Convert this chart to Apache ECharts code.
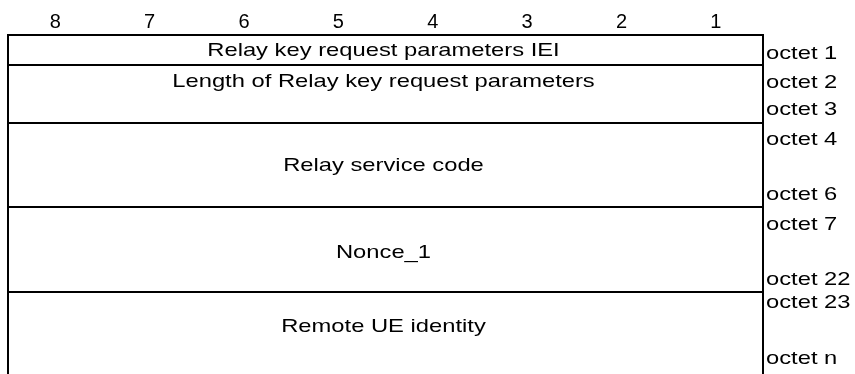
<!DOCTYPE html>
<html>
<head>
<meta charset="utf-8">
<script src="https://cdn.jsdelivr.net/npm/echarts@6/dist/echarts.min.js"></script>
<style>html,body{margin:0;padding:0;background:#fff}#c{width:855px;height:374px}</style>
</head>
<body>
<div id="c"></div>
<script>
// Bit column headings (left = most significant bit)
var bitLabels = ['8', '7', '6', '5', '4', '3', '2', '1'];
// Information element fields (rows of the figure)
var fieldNames = ['Relay key request parameters IEI', 'Length of Relay key request parameters', 'Relay service code', 'Nonce_1', 'Remote UE identity'];
// Row extents, in octet-line units from the top of the table
var rowStart = [0, 1.05, 3.06, 6.02, 9];
var rowEnd = [1.05, 3.06, 6.02, 9, 12];
// Vertical position of each field name (octet-line units)
var fieldLabelY = [0.55, 1.62, 4.57, 7.62, 10.2];
// Octet labels on the right side and their vertical positions
var octetLabels = ['octet 1', 'octet 2', 'octet 3', 'octet 4', 'octet 6', 'octet 7', 'octet 22', 'octet 23', 'octet n'];
var octetY = [0.65, 1.66, 2.6, 3.67, 5.6, 6.62, 8.57, 9.35, 11.33];

var FONT = 'Liberation Sans, Arial, sans-serif';
var FS = 19;
var SX = 1.25;

var chart = echarts.init(document.getElementById('c'), null, {renderer: 'canvas'});

var rowData = rowStart.map(function (s, i) { return [s, rowEnd[i]]; });
var fieldData = fieldNames.map(function (n, i) { return [4, fieldLabelY[i], n]; });
var octetData = octetLabels.map(function (n, i) { return [8, octetY[i], n]; });

function textEl(x, y, str, align) {
  return {
    type: 'text',
    x: x, y: y,
    scaleX: SX,
    style: {
      text: str,
      fill: '#000',
      font: FS + 'px ' + FONT,
      align: align,
      verticalAlign: 'middle'
    }
  };
}

chart.setOption({
  animation: false,
  backgroundColor: '#fff',
  grid: {left: 8, right: 92, top: 35, bottom: 0, containLabel: false},
  xAxis: [
    {
      type: 'category', data: bitLabels, position: 'top', boundaryGap: true,
      axisLine: {show: false}, axisTick: {show: false}, splitLine: {show: false},
      axisLabel: {color: '#000', fontSize: 20, fontFamily: FONT, margin: 3}
    },
    {type: 'value', min: 0, max: 8, show: false}
  ],
  yAxis: {type: 'value', min: 0, max: 11.85, inverse: true, show: false},
  series: [
    {
      type: 'custom', xAxisIndex: 1, data: rowData, clip: false,
      renderItem: function (params, api) {
        var tl = api.coord([0, api.value(0)]);
        var br = api.coord([8, api.value(1)]);
        var x0 = Math.round(tl[0]), x1 = Math.round(br[0]);
        var y0 = Math.round(tl[1]), y1 = Math.round(br[1]);
        var ls = {stroke: '#000', lineWidth: 2};
        var ch = [
          {type: 'line', shape: {x1: x0 - 1, y1: y0, x2: x1 + 1, y2: y0}, style: ls},
          {type: 'line', shape: {x1: x0, y1: y0, x2: x0, y2: y1}, style: ls},
          {type: 'line', shape: {x1: x1, y1: y0, x2: x1, y2: y1}, style: ls}
        ];
        return {type: 'group', children: ch};
      }
    },
    {
      type: 'custom', xAxisIndex: 1, data: fieldData, clip: false,
      renderItem: function (params, api) {
        var p = api.coord([api.value(0), api.value(1)]);
        return textEl(p[0] - 2, p[1], fieldNames[params.dataIndex], 'center');
      }
    },
    {
      type: 'custom', xAxisIndex: 1, data: octetData, clip: false,
      renderItem: function (params, api) {
        var p = api.coord([api.value(0), api.value(1)]);
        return textEl(p[0] + 3, p[1], octetLabels[params.dataIndex], 'left');
      }
    }
  ]
});
</script>
</body>
</html>
